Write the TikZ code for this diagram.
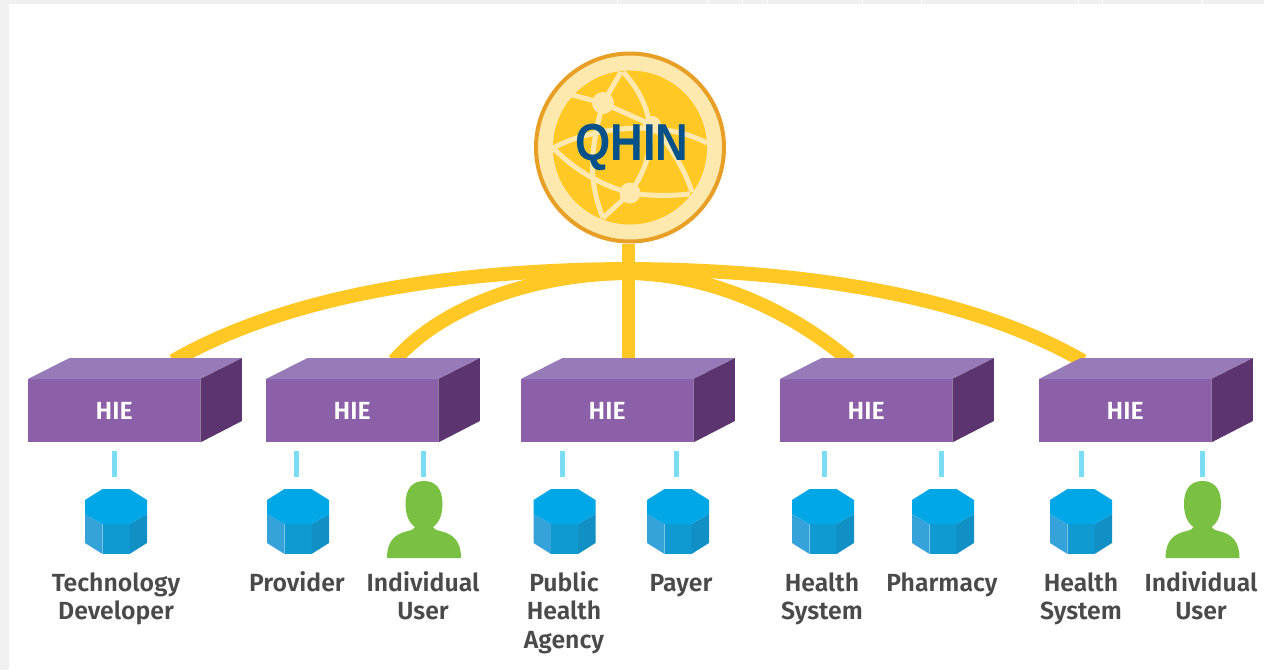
\documentclass[tikz,border=0pt]{standalone}
\usepackage{fontspec}
\setmainfont{Fira Sans}[BoldFont=Fira Sans SemiBold]
\newfontfamily\qhinfont{Liberation Sans}[Scale=1]
\definecolor{goldline}{HTML}{FFC825}
\definecolor{globering}{HTML}{FDE8AE}
\definecolor{globeedge}{HTML}{E89F25}
\definecolor{qhinblue}{HTML}{07518A}
\definecolor{hiefront}{HTML}{8B60A8}
\definecolor{hietop}{HTML}{967BB8}
\definecolor{hieside}{HTML}{5C3570}
\definecolor{ticklight}{HTML}{7ADCF5}
\definecolor{prismtop}{HTML}{00A7E6}
\definecolor{prismleft}{HTML}{36A2DA}
\definecolor{prismmid}{HTML}{0F9AD2}
\definecolor{prismright}{HTML}{1190C5}
\definecolor{persongreen}{HTML}{7AC143}
\definecolor{labelgray}{HTML}{4A4A4A}
\tikzset{
  goldwire/.style={draw=goldline, line width=13pt},
  globewire/.style={draw=globering, line width=5pt},
  hiebox/.style={fill=hiefront, text=white, minimum width=172pt, minimum height=63pt, inner sep=0pt,
    font=\fontsize{24.8}{28}\selectfont\bfseries},
  iconspot/.style={minimum width=62pt, minimum height=66pt, inner sep=0pt},
  ticklink/.style={draw=ticklight, line width=5pt, shorten >=9pt, shorten <=12pt},
  entitylabel/.style={anchor=north, align=center, text=labelgray, inner sep=0pt,
    font=\fontsize{24.8}{28.5}\selectfont\bfseries, execute at begin node=\strut},
  prism/.pic={
    \fill[prismleft] (-31,-8) -- (-13.5,2) -- (-13.5,32) -- (-31,21) -- cycle;
    \fill[prismmid] (-13.5,2) -- (13.5,2) -- (13.5,32) -- (-13.5,32) -- cycle;
    \fill[prismright] (13.5,2) -- (31,-8) -- (31,21) -- (13.5,32) -- cycle;
    \fill[prismtop] (-13.5,-33) -- (13.5,-33) -- (31,-22) -- (31,-8) -- (13.5,2) -- (-13.5,2) -- (-31,-8) -- (-31,-22) -- cycle;
  },
  person/.pic={
    \fill[persongreen] (-37,36) .. controls (-37,20) and (-30,12) .. (-16,9)
      .. controls (-12,8) and (-10,7) .. (-9,5)
      .. controls (-15,1) and (-18.5,-7) .. (-18.5,-18)
      .. controls (-18.5,-34) and (-11,-41) .. (0,-41)
      .. controls (11,-41) and (18.5,-34) .. (18.5,-18)
      .. controls (18.5,-7) and (15,1) .. (9,5)
      .. controls (10,7) and (12,8) .. (16,9)
      .. controls (30,12) and (37,20) .. (37,36) -- cycle;
  }
}
\begin{document}
\begin{tikzpicture}[x=1pt, y=-1pt]
    \useasboundingbox (0,0) rectangle (1264,670);
    % 1. Page background with the grey strips
    \fill[black!6] (0,0) rectangle (1264,670);
    \fill[white] (9,3.5) rectangle (1264,670);
    \foreach \x in {617,707,742,767,862,921,1078,1102,1202} {
        \draw[white, line width=1pt] (\x,0) -- (\x,3.5);
    }

    % 2. The globe
    \node[circle, fill=globering, draw=globeedge, line width=4pt, minimum size=188pt, inner sep=0pt] (qhin) at (630,147.5) {};
    \fill[goldline] (qhin.center) circle (77);
    \draw[globewire] (553,148) .. controls (590,128) and (660,118) .. (707,143);
    \draw[globewire] (623,72) .. controls (645,95) and (668,140) .. (630,193);
    \draw[globewire] (603,103) .. controls (590,150) and (588,180) .. (603,218);
    \draw[globewire] (553,148) .. controls (575,170) and (600,185) .. (630,193);
    \draw[globewire] (630,193) .. controls (650,196) and (670,196) .. (690,194);
    \draw[globewire] (652,125) .. controls (670,145) and (685,170) .. (692,192);
    \draw[globewire] (572,95) -- (603,103) -- (652,125);
    \draw[globewire] (603,103) -- (621,72);
    \draw[globewire] (630,193) -- (603,218);
    \fill[globering] (603,103) circle (11) (652,125) circle (9) (630,193) circle (10.5);
    \node[text=qhinblue, font=\fontsize{52}{52}\selectfont\qhinfont\bfseries, inner sep=0pt, xscale=0.87] (qhintext) at (632,147) {QHIN};

    % 3. The gold wires
    \coordinate (apex1) at (628,269);
    \coordinate (apex2) at (628,273);
    \coordinate (end1) at (173,361);
    \coordinate (end2) at (394,361);
    \coordinate (end3) at (628,361);
    \coordinate (end4) at (850,361);
    \coordinate (end5) at (1083,361);
    \draw[goldwire] (qhin.south -| apex1) -- (end3);
    \draw[goldwire, line width=14pt] (end1) .. controls (270,305) and (420,270) .. (apex1) .. controls (836,270) and (986,305) .. (end5);
    \draw[goldwire, line width=14pt] (end2) .. controls (440,308) and (530,274) .. (apex2) .. controls (710,274) and (790,310) .. (end4);

    % 4. The HIE boxes
    \foreach \n/\x in {1/28, 2/266, 3/521, 4/780, 5/1039} {
        \node[hiebox, anchor=north west] (hie\n) at (\x,379) {HIE\hspace{2.5pt}};
        \fill[hietop] (hie\n.north west) -- ++(41.5,-21) -- ++(172,0) -- (hie\n.north east) -- cycle;
        \fill[hieside] (hie\n.north east) -- ++(41.5,-21) -- ++(0,63) -- (hie\n.south east) -- cycle;
    }

    % 5. The icons, their labels and the short links
    \foreach \n/\x/\kind/\h/\tick/\tx/\ty/\txt in {
        1/116/prism/1/114/116/572.5/{Technology\\Developer},
        2/298/prism/2/296/297/571/{Provider},
        3/424/person/2/423/423/571/{Individual\\User},
        4/564.5/prism/3/562/564/571/{Public\\Health\\Agency},
        5/678/prism/3/676/681/571/{Payer},
        6/823/prism/4/824/822/572.5/{Health\\System},
        7/943/prism/4/941/942/571/{Pharmacy},
        8/1081/prism/5/1081/1081/572.5/{Health\\System},
        9/1202.5/person/5/1202/1201/571/{Individual\\User}} {
        \pic at (\x,522) {\kind};
        \node[iconspot] (icon\n) at (\x,522) {};
        \node[entitylabel] (label\n) at (\tx,\ty) {\txt};
        \coordinate (tick\n) at (\tick,522);
        \draw[ticklink] (tick\n |- icon\n.north) -- (tick\n |- hie\h.south);
    }
\end{tikzpicture}
\end{document}
